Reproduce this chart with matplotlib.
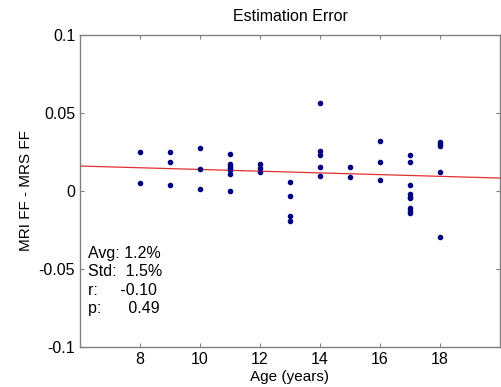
# estimation error scatter, redone from the matlab figure
import numpy as np
import matplotlib.pyplot as plt

plt.rcParams['font.family'] = ['Liberation Sans', 'DejaVu Sans']

age = [8, 8,
       9, 9, 9,
       10, 10, 10,
       11, 11, 11, 11, 11, 11, 11,
       12, 12, 12,
       13, 13, 13, 13,
       14, 14, 14, 14, 14,
       15, 15,
       16, 16, 16,
       17, 17, 17, 17, 17, 17, 17, 17, 17,
       18, 18, 18, 18, 18]
err = [0.0252, 0.0051,
       0.0252, 0.0186, 0.0040,
       0.0274, 0.0139, 0.0010,
       0.0235, 0.0171, 0.0160, 0.0147, 0.0135, 0.0107, 0.0002,
       0.0175, 0.0145, 0.0122,
       0.0060, -0.0032, -0.0158, -0.0192,
       0.0566, 0.0256, 0.0229, 0.0152, 0.0094,
       0.0154, 0.0088,
       0.0323, 0.0184, 0.0068,
       0.0229, 0.0184, 0.0038, -0.0019, -0.0036, -0.0047, -0.0109, -0.0126, -0.0139,
       0.0312, 0.0301, 0.0290, 0.0124, -0.0297]

# fit line
fit_slope, fit_icept = -0.00055, 0.0193

xticks = [8, 10, 12, 14, 16, 18]
yticks = [-0.1, -0.05, 0, 0.05, 0.1]
ylabels = ["-0.1", "-0.05", "0", "0.05", "0.1"]
stats = "Avg: 1.2%\nStd:  1.5%\nr:     -0.10\np:      0.49"

fig = plt.figure(figsize=(5.01, 3.87), dpi=100)
ax = fig.add_axes([80/501, 1 - 347/387, 420/501, 312/387])

xl = np.array([6, 20])
ax.plot(xl, fit_icept + fit_slope*xl, color="#e03030", lw=0.9)
ax.scatter(age, err, s=9, color="#000080", zorder=3)

ax.set_xlim(6, 20)
ax.set_ylim(-0.1, 0.1)
ax.set_xticks(xticks)
ax.set_yticks(yticks)
ax.set_yticklabels(ylabels)
ax.tick_params(direction="in", length=3, width=0.8, color="#808080",
               labelsize=11.5, top=True, right=True)
for s in ax.spines.values():
    s.set_color("#808080")
    s.set_linewidth(1.0)

ax.set_title("Estimation Error", fontsize=11.5, pad=10)
ax.set_xlabel("Age (years)", fontsize=11, labelpad=2)
ax.set_ylabel("MRI FF - MRS FF", fontsize=11, labelpad=4)
ax.text(0.02, 0.325, stats, transform=ax.transAxes, fontsize=11.5,
        va="top", ha="left", linespacing=1.3)

fig.savefig("out.png", dpi=100)
